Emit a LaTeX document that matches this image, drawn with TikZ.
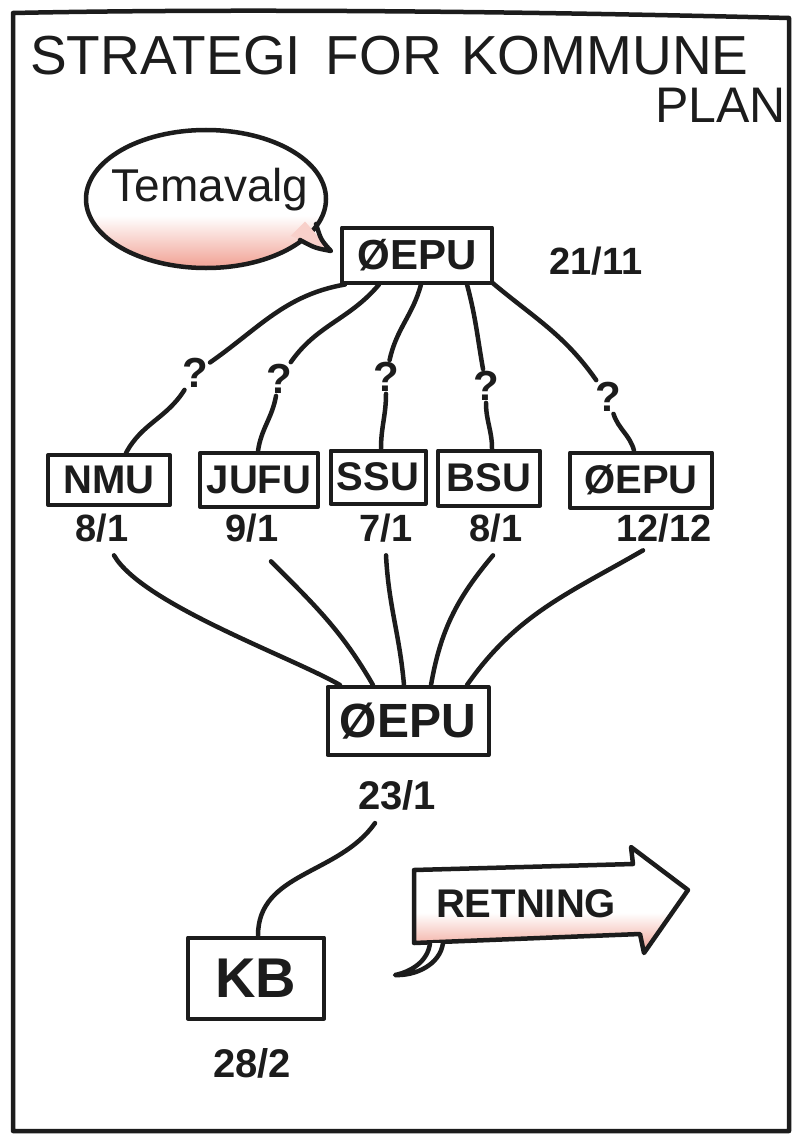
\documentclass[tikz,border=0pt]{standalone}
\usepackage{fontspec}
\setmainfont{Liberation Sans}
\usetikzlibrary{shapes.geometric,calc}
\definecolor{ink}{RGB}{28,28,28}
\definecolor{blush}{RGB}{242,170,158}
\pgfdeclareverticalshading{pinkfade}{100bp}{color(0bp)=(blush); color(27bp)=(blush); color(44bp)=(white); color(100bp)=(white)}
\begin{document}
\begin{tikzpicture}[x=1pt,y=-1pt,line join=round,line cap=round,
  pen/.style={draw=ink,line width=4.5pt},
  txt/.style={text=ink,inner sep=0pt},
  box/.style={pen,line width=4pt,inner sep=0pt,text=ink,font=\fontsize{40}{44}\selectfont\bfseries},
  datel/.style={text=ink,inner sep=1pt,font=\fontsize{38}{42}\selectfont\bfseries},
  qmark/.style={text=ink,inner sep=2pt,font=\fontsize{42}{46}\selectfont\bfseries},
  link/.style={pen,line width=4.5pt}]
\useasboundingbox (0,0) rectangle (793,1137);
\fill[white] (0,0) rectangle (793,1137);
% frame
\draw[pen] (13,13) .. controls (250,8) and (550,12) .. (789,18) -- (789,1131) -- (13,1131) -- cycle;
% title
\node[txt,anchor=base west,font=\fontsize{55}{60}\selectfont] (title) at (30,75) {STRATEGI\hspace{0.45em}FOR\hspace{0.35em}KOMMUNE};
\node[txt,anchor=base east,font=\fontsize{50}{54}\selectfont] (plan) at (786,123) {PLAN};
% speech bubble (explicit ellipse, centre 206,199, radii 120 x 69)
\coordinate (bub) at (206,199);
\path[shading=pinkfade] (86,199) .. controls (86,160.9) and (139.7,130) .. (206,130) .. controls (272.3,130) and (326,160.9) .. (326,199) .. controls (326,237.1) and (272.3,268) .. (206,268) .. controls (139.7,268) and (86,237.1) .. (86,199) -- cycle;
\draw[pen] (86,199) .. controls (86,160.9) and (139.7,130) .. (206,130) .. controls (272.3,130) and (326,160.9) .. (326,199) .. controls (326,237.1) and (272.3,268) .. (206,268) .. controls (139.7,268) and (86,237.1) .. (86,199) -- cycle;
\node[txt,font=\fontsize{46}{50}\selectfont] (tema) at (210,190) {Temavalg};
\coordinate (tip) at (331,251);
\coordinate (ta) at (300,240);
\coordinate (tb) at (316,224);
\fill[blush!55] ($(bub)!0.9!(ta)$) -- (tip) -- ($(bub)!0.9!(tb)$) -- cycle;
\draw[pen] (ta) .. controls (315,248) .. (tip) .. controls (321,240) .. (tb);
% top node
\node[box,minimum width=150pt,minimum height=55pt,font=\fontsize{42}{46}\selectfont\bfseries] (top) at (417,255) {ØEPU};
\node[datel] (d0) at (596,261) {21/11};
% middle row
\node[box,minimum width=122pt,minimum height=50pt] (nmu) at (109,480) {NMU};
\node[box,minimum width=118pt,minimum height=54pt] (jufu) at (259,480) {JUFU};
\node[box,minimum width=95pt,minimum height=53pt] (ssu) at (378,477) {SSU};
\node[box,minimum width=102pt,minimum height=55pt] (bsu) at (489,478) {BSU};
\node[box,minimum width=142pt,minimum height=55pt] (oepu) at (641,480) {ØEPU};
\node[datel] (d1) at (102,528) {8/1};
\node[datel] (d2) at (252,528) {9/1};
\node[datel] (d3) at (386,528) {7/1};
\node[datel] (d4) at (496,528) {8/1};
\node[datel] (d5) at (664,528) {12/12};
% question marks
\node[qmark] (q1) at (195,373) {?};
\node[qmark] (q2) at (279,379) {?};
\node[qmark] (q3) at (386,377) {?};
\node[qmark] (q4) at (486,386) {?};
\node[qmark] (q5) at (608,397) {?};
% links from top
\draw[link] ([xshift=-72pt]top.south) to[out=190,in=35] (q1) to[out=-122,in=62] ([xshift=17pt]nmu.north);
\draw[link] ([xshift=-38pt]top.south) to[out=-130,in=55] (q2) to[out=-100,in=82] ([xshift=-1pt]jufu.north);
\draw[link] ([xshift=4pt]top.south) to[out=-105,in=78] (q3) to[out=-90,in=90] ([xshift=3pt]ssu.north);
\draw[link] ([xshift=50pt]top.south) to[out=-75,in=100] (q4) to[out=-90,in=90] ([xshift=3pt]bsu.north);
\draw[link] ([xshift=75pt,yshift=2pt]top.south) to[out=-40,in=125] (q5) to[out=-72,in=105] ([xshift=-7pt]oepu.north);
% bottom node
\node[box,minimum width=161pt,minimum height=68pt,font=\fontsize{48}{50}\selectfont\bfseries] (bot) at (408,721) {ØEPU};
\node[datel,font=\fontsize{40}{44}\selectfont\bfseries] (d6) at (397,795) {23/1};
% links to bottom
\draw[link] ([xshift=12pt,yshift=-12pt]d1.south) to[out=-60,in=150,looseness=0.55] ([xshift=-68pt]bot.north);
\draw[link] ([xshift=19pt,yshift=-18pt]d2.south) to[out=-45,in=120] ([xshift=-35pt]bot.north);
\draw[link] ([xshift=0pt,yshift=-12pt]d3.south) to[out=-87,in=95] ([xshift=-4pt]bot.north);
\draw[link] ([xshift=-3pt,yshift=-12pt]d4.south) to[out=-130,in=80] ([xshift=23pt]bot.north);
\draw[link] ([xshift=-21pt,yshift=-7pt]d5.south) to[out=-150,in=55] ([xshift=59pt]bot.north);
% KB
\node[box,minimum width=136pt,minimum height=81pt,font=\fontsize{56}{60}\selectfont\bfseries] (kb) at (256,978) {KB};
\node[datel,font=\fontsize{40}{44}\selectfont\bfseries] (d7) at (252,1063) {28/2};
\draw[link] ([xshift=-22pt,yshift=-12pt]d6.south) to[out=-125,in=90] ([xshift=2pt]kb.north);
% RETNING arrow
\path[shading=pinkfade] (414,870) -- (633,864) -- (631,847) -- (688,890) -- (644,953) -- (640,934) -- (414,943) -- cycle;
\draw[pen] (414,870) -- (633,864) -- (631,847) -- (688,890) -- (644,953) -- (640,934) -- (414,943) -- cycle;
\fill[white] (430,943) .. controls (428,962) and (410,972) .. (395,975) .. controls (415,976) and (440,965) .. (443,943) -- cycle;
\draw[pen] (430,943) .. controls (428,962) and (410,972) .. (395,975) .. controls (415,976) and (440,965) .. (443,943);
\node[txt,font=\fontsize{40}{46}\selectfont\bfseries] (ret) at (526,904) {RETNING};
\end{tikzpicture}
\end{document}
